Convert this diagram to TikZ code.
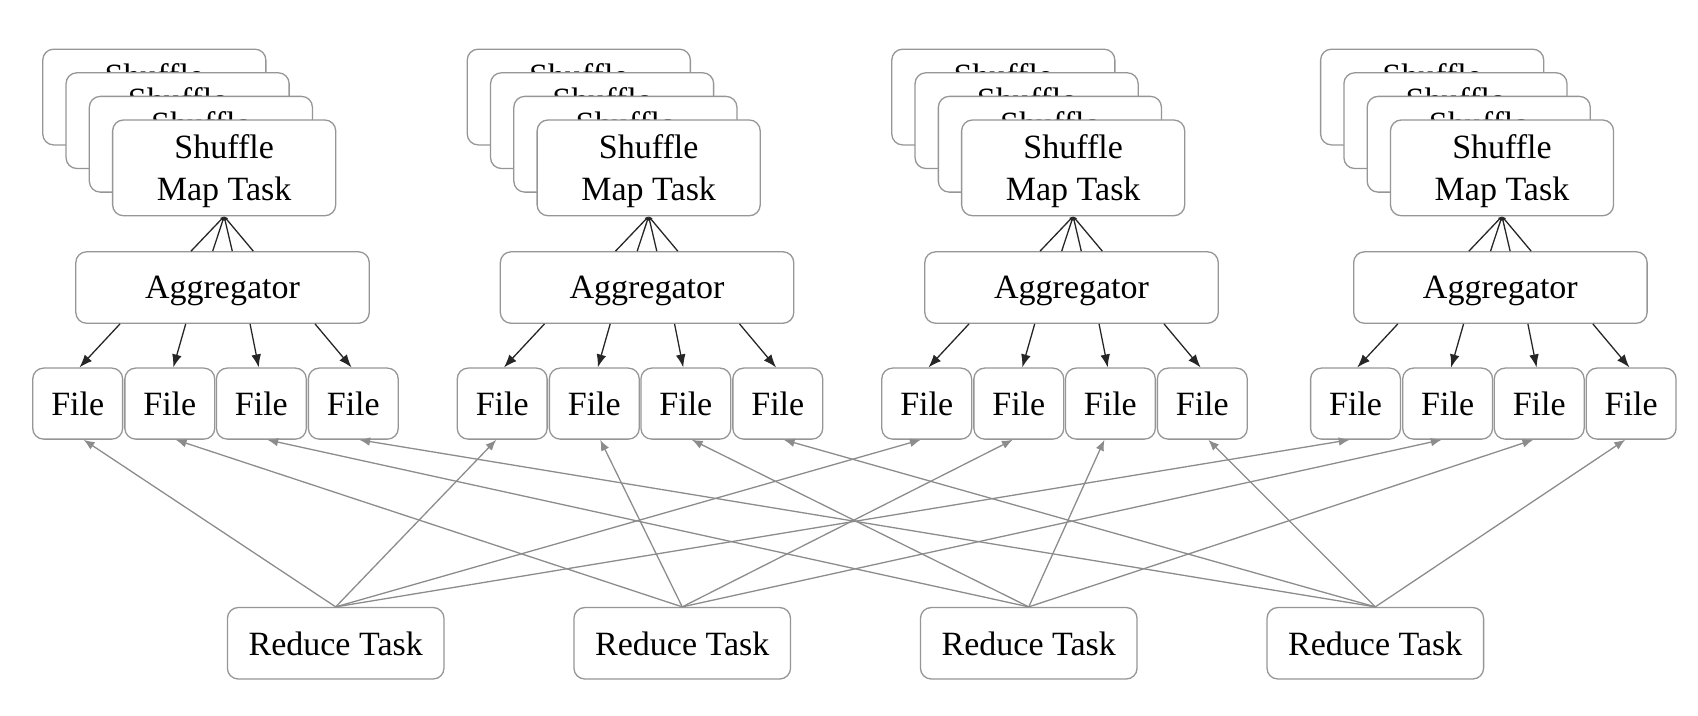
\documentclass[tikz,border=0pt]{standalone}
\usepackage{fontspec}
\setmainfont{Liberation Serif}
\usetikzlibrary{arrows.meta}
\definecolor{boxgray}{RGB}{150,150,150}
\definecolor{arrowgray}{RGB}{140,140,140}
\begin{document}
\begin{tikzpicture}[x=0.5pt,y=-0.5pt,
  box/.style={draw=boxgray, line width=0.6pt, rounded corners=5pt, fill=white,
    align=center, inner sep=0pt, text depth=0pt, text=black, font=\fontsize{15.7}{19.5}\selectfont},
  maptask/.style={box, minimum width=103pt, minimum height=44.2pt},
  aggbox/.style={box, minimum width=135.5pt, minimum height=33pt},
  filebox/.style={box, minimum width=41.5pt, minimum height=32.8pt},
  redbox/.style={box, minimum width=100pt, minimum height=33pt},
  feed/.style={draw=black!85, line width=0.6pt, -{Latex[length=6pt,width=4.5pt]}},
  mapline/.style={draw=black!85, line width=0.6pt, -{Latex[length=1.8pt,width=1.8pt]}},
  redline/.style={draw=arrowgray, line width=0.6pt, -{Latex[length=5pt,width=4pt]}}]
\useasboundingbox (0,0) rectangle (1568,661);

\foreach \g/\dx in {1/0,2/392,3/784,4/1180}{
  % stacked map tasks
  \foreach \k in {1,2,3,4}{
    \node[maptask] (m\g-\k) at ({207+\dx-21.5*(4-\k)},{155-21.8*(4-\k)}) {Shuffle\\Map Task};
  }
  \node[aggbox] (a\g) at ({205.5+\dx},265.5) {Aggregator};
  \foreach \j/\fx in {1/71.75,2/156.8,3/241.35,4/326.25}{
    \node[filebox] (f\g-\j) at ({\fx+\dx},372.7) {File};
  }
  % aggregator to map task
  \foreach \s in {-14.55,-4.55,4.5,14.2}{
    \draw[mapline] ([xshift=\s pt]a\g.north) -- (m\g-4.south);
  }
  % aggregator to files
  \foreach \j/\s/\t in {1/-47.35/0.8,2/-17/1.6,3/12.7/-1.2,4/42.7/-0.8}{
    \draw[feed] ([xshift=\s pt]a\g.south) -- ([xshift=\t pt]f\g-\j.north);
  }
}

\foreach \i in {1,2,3,4}{
  \node[redbox] (r\i) at ({310+320*(\i-1)},594) {Reduce Task};
}

\foreach \i in {1,2,3,4}{
  \foreach \g/\dx in {1/0,2/392,3/784,4/1180}{
    \pgfmathsetmacro{\fxx}{71.75+84.8*(\i-1)+\dx}
    \pgfmathsetmacro{\rxx}{310+320*(\i-1)}
    \pgfmathsetmacro{\off}{\fxx<\rxx ? 2.75 : -2.75}
    \draw[redline] (r\i.north) -- ([xshift=\off pt]f\g-\i.south);
  }
}
\end{tikzpicture}
\end{document}
